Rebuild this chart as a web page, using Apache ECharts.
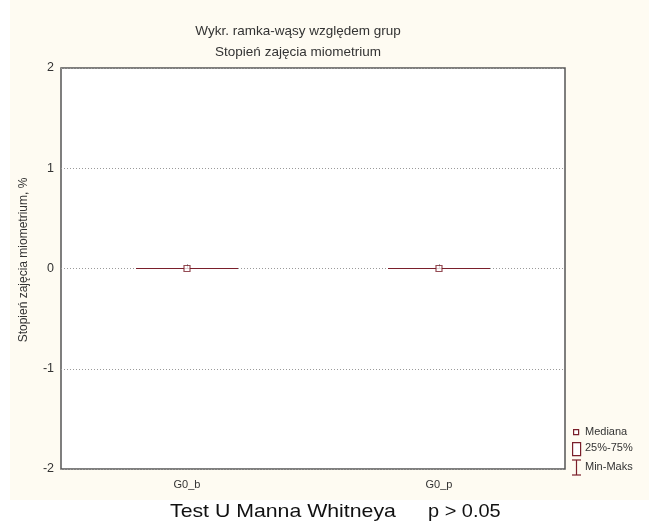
<!DOCTYPE html>
<html>
<head>
<meta charset="utf-8">
<script src="https://cdn.jsdelivr.net/npm/echarts@6/dist/echarts.min.js"></script>
<style>
  html, body { margin: 0; padding: 0; background: #ffffff; }
  #chart { width: 649px; height: 524px; }
</style>
</head>
<body>
<div id="chart"></div>
<script>
// Groups and their box-plot statistics: [min, Q1, median, Q3, max]
const categories = ['G0_b', 'G0_p'];
const boxStats = [
  [0, 0, 0, 0, 0],
  [0, 0, 0, 0, 0]
];
const medians = [0, 0];
const yTicks = [-2, -1, 0, 1, 2];

const MARK = '#7a1f2b';
const TEXT = '#333333';
const FONT = 'Liberation Sans, Arial, sans-serif';

const chart = echarts.init(document.getElementById('chart'), null, { renderer: 'canvas' });

chart.setOption({
  backgroundColor: '#fefbf2',
  animation: false,
  title: [
    {
      text: 'Wykr. ramka-wąsy względem grup',
      left: 293, top: 19, textAlign: 'center',
      textStyle: { fontFamily: FONT, fontSize: 13.5, fontWeight: 'normal', color: TEXT }
    },
    {
      text: 'Stopień zajęcia miometrium',
      left: 293, top: 40, textAlign: 'center',
      textStyle: { fontFamily: FONT, fontSize: 13.5, fontWeight: 'normal', color: TEXT }
    }
  ],
  grid: {
    left: 61, right: 84, top: 68, bottom: 55,
    show: true, backgroundColor: '#ffffff',
    borderColor: '#555555', borderWidth: 1.5
  },
  xAxis: {
    type: 'category',
    data: categories,
    boundaryGap: true,
    axisLine: { show: false },
    axisTick: { show: true, inside: true, length: 4, alignWithLabel: true, lineStyle: { color: '#555' } },
    axisLabel: { fontFamily: FONT, fontSize: 11, color: TEXT, margin: 10 },
    splitLine: { show: false }
  },
  yAxis: {
    type: 'value',
    min: yTicks[0], max: yTicks[yTicks.length - 1], interval: 1,
    axisLine: { show: false },
    axisTick: { show: false },
    axisLabel: { fontFamily: FONT, fontSize: 12.5, color: TEXT, margin: 7 },
    splitLine: { show: true, lineStyle: { color: '#9a9a9a', type: [1, 2], width: 1 } }
  },
  series: [
    {
      name: '25%-75%',
      type: 'boxplot',
      data: boxStats,
      boxWidth: [102, 102],
      itemStyle: { color: 'transparent', borderColor: MARK, borderWidth: 1.2 },
      z: 3
    },
    {
      name: 'Mediana',
      type: 'scatter',
      data: medians,
      symbol: 'rect',
      symbolSize: 6,
      itemStyle: { color: '#ffffff', borderColor: MARK, borderWidth: 1.2 },
      z: 4
    }
  ],
  graphic: [
    // white strips outside the framed area
    { type: 'rect', left: 0, top: 0, shape: { width: 10, height: 524 }, style: { fill: '#ffffff' }, silent: true },
    { type: 'rect', left: 0, top: 500, shape: { width: 649, height: 24 }, style: { fill: '#ffffff' }, silent: true },
    // y axis title
    {
      type: 'text', x: 24, y: 260, rotation: Math.PI / 2,
      style: {
        text: 'Stopień zajęcia miometrium, %', fontFamily: FONT, fontSize: 12,
        fill: TEXT, align: 'center', verticalAlign: 'middle'
      }
    },
    // footnote
    {
      type: 'text', x: 170, y: 512, scaleX: 1.12,
      style: { text: 'Test U Manna Whitneya', fontFamily: FONT, fontSize: 19, fill: '#111111', verticalAlign: 'middle' }
    },
    {
      type: 'text', x: 428, y: 512, scaleX: 1.05,
      style: { text: 'p > 0.05', fontFamily: FONT, fontSize: 19, fill: '#111111', verticalAlign: 'middle' }
    },
    // legend: median
    { type: 'rect', left: 573, top: 429, shape: { width: 5, height: 5 }, style: { fill: '#fff', stroke: MARK, lineWidth: 1.2 }, silent: true },
    { type: 'text', left: 585, top: 426, style: { text: 'Mediana', fontFamily: FONT, fontSize: 11, fill: TEXT } },
    // legend: box
    { type: 'rect', left: 572, top: 442, shape: { width: 8, height: 13 }, style: { fill: '#fff', stroke: MARK, lineWidth: 1.2 }, silent: true },
    { type: 'text', left: 585, top: 442, style: { text: '25%-75%', fontFamily: FONT, fontSize: 11, fill: TEXT } },
    // legend: whisker
    {
      type: 'polyline', silent: true,
      shape: { points: [[572, 460], [581, 460]] }, style: { stroke: MARK, lineWidth: 1.2 }
    },
    {
      type: 'polyline', silent: true,
      shape: { points: [[576.5, 460], [576.5, 475]] }, style: { stroke: MARK, lineWidth: 1.2 }
    },
    {
      type: 'polyline', silent: true,
      shape: { points: [[572, 475], [581, 475]] }, style: { stroke: MARK, lineWidth: 1.2 }
    },
    { type: 'text', left: 585, top: 461, style: { text: 'Min-Maks', fontFamily: FONT, fontSize: 11, fill: TEXT } }
  ]
});
</script>
</body>
</html>
